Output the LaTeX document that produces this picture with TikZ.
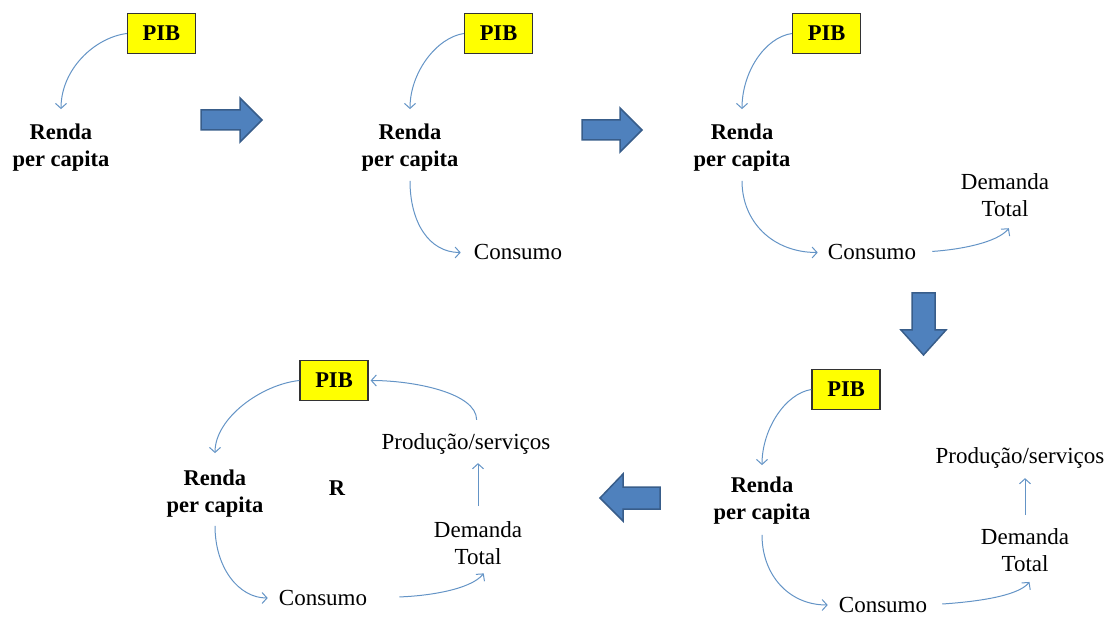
\documentclass[tikz,border=0pt]{standalone}
\usepackage{fontspec}
\setmainfont{Liberation Serif}
\usetikzlibrary{arrows.meta}
\definecolor{linkblue}{RGB}{100,148,198}
\definecolor{arrowfill}{RGB}{79,129,189}
\definecolor{arrowedge}{RGB}{56,93,138}
\definecolor{pibyellow}{RGB}{255,255,0}
\begin{document}
\begin{tikzpicture}[x=1pt,y=-1pt,
  txt/.style={inner sep=0pt, align=center, font=\fontsize{23}{27}\selectfont},
  boldtxt/.style={inner sep=0pt, align=center, font=\fontsize{22.5}{27}\selectfont\bfseries},
  pib/.style={draw=black!80, fill=pibyellow, line width=1.3pt, minimum width=68pt,
    minimum height=40pt, inner sep=0pt, font=\fontsize{22.5}{26}\selectfont\bfseries},
  link/.style={draw=linkblue, line width=1pt, -{Straight Barb[length=5pt,width=11pt]}},
  blockarrow/.style={fill=arrowfill, draw=arrowedge, line width=1.5pt, line join=miter}]
\useasboundingbox (0,0) rectangle (1114,617);

% stage 1: PIB -> Renda
\node[pib] (pibA) at (161.5,33.5) {PIB};
\node[boldtxt] (renA) at (61,148) {Renda\\per capita};
\draw[link, shorten >=15pt] (pibA.west) .. controls +(-32,4) and +(0,-55) .. (renA.north);

% stage 2: + Consumo
\node[pib] (pibB) at (498.5,33.5) {PIB};
\node[boldtxt] (renB) at (410,148) {Renda\\per capita};
\node[txt] (conB) at (518,252.5) {Consumo};
\draw[link, shorten >=15pt] (pibB.west) .. controls +(-27,4) and +(0,-52) .. (renB.north);
\draw[link, shorten <=9pt, shorten >=13pt] (renB.south) .. controls +(0,50) and +(-45,0) .. (conB.west);

% stage 3: + Demanda Total
\node[pib] (pibC) at (826.5,33.5) {PIB};
\node[boldtxt] (renC) at (742,148) {Renda\\per capita};
\node[txt] (conC) at (872,252.5) {Consumo};
\node[txt] (demC) at (1005,195.5) {Demanda\\Total};
\draw[link, shorten >=15pt] (pibC.west) .. controls +(-27,4) and +(0,-52) .. (renC.north);
\draw[link, shorten <=9pt, shorten >=10pt] (renC.south) .. controls +(0,50) and +(-55,0) .. (conC.west);
\draw[link, shorten <=16pt, shorten >=14pt] (conC.east) .. controls +(45,-3) and +(-20,25) .. (demC.-60);

% stage 4: + Produção/serviços
\node[pib] (pibD) at (846,389.5) {PIB};
\node[boldtxt] (renD) at (762,501) {Renda\\per capita};
\node[txt] (conD) at (883,605) {Consumo};
\node[txt] (demD) at (1025,550) {Demanda\\Total};
\node[txt] (proD) at (1020,457.5) {Produção/serviços};
\draw[link, shorten >=12pt] (pibD.west) .. controls +(-26,4) and +(0,-48) .. (renD.north);
\draw[link, shorten <=10pt, shorten >=11pt] (renD.south) .. controls +(0,50) and +(-50,0) .. (conD.west);
\draw[link, shorten <=15pt, shorten >=13pt] (conD.east) .. controls +(45,-3) and +(-20,25) .. (demD.-60);
\draw[link, shorten <=13pt, shorten >=10pt] (demD.north) -- (demD.north |- proD.south);

% stage 5: closed loop
\node[pib] (pibE) at (334,380.5) {PIB};
\node[boldtxt] (renE) at (215,494) {Renda\\per capita};
\node[boldtxt] (loopR) at (337,488) {R};
\node[txt] (conE) at (323,598) {Consumo};
\node[txt] (demE) at (478,543) {Demanda\\Total};
\node[txt] (proE) at (466,443.5) {Produção/serviços};
\draw[link, shorten >=17pt] (pibE.west) .. controls +(-38,4) and +(0,-52) .. (renE.north);
\draw[link, shorten <=8pt, shorten >=11pt] (renE.south) .. controls +(0,50) and +(-40,0) .. (conE.west);
\draw[link, shorten <=32pt, shorten >=11pt] (conE.east) .. controls +(60,-2) and +(-20,25) .. (demE.-60);
\draw[link, shorten <=15pt, shorten >=9pt] (demE.north) -- (demE.north |- proE.south);
\draw[link, shorten <=13pt, shorten >=2pt] (proE.45) .. controls +(0,-40) and +(45,0) .. (pibE.east);

% block arrows between stages
\path[blockarrow] (201,110) -- (240,110) -- (240,98) -- (262,120) -- (240,142) -- (240,130) -- (201,130) -- cycle;
\path[blockarrow] (582,120) -- (620,120) -- (620,108) -- (642,130) -- (620,152) -- (620,140) -- (582,140) -- cycle;
\path[blockarrow] (912,293) -- (935,293) -- (935,330) -- (946,330) -- (923.5,355) -- (901,330) -- (912,330) -- cycle;
\path[blockarrow] (660,487) -- (623,487) -- (623,474) -- (600,498) -- (623,521) -- (623,509) -- (660,509) -- cycle;
\end{tikzpicture}
\end{document}
